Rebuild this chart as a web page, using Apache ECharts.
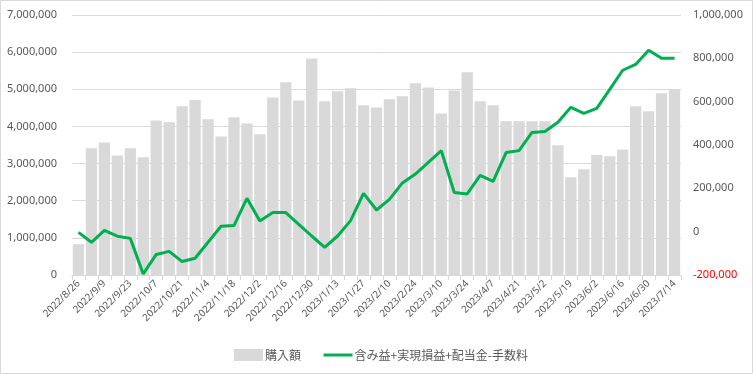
<!DOCTYPE html>
<html>
<head>
<meta charset="utf-8">
<script src="https://cdn.jsdelivr.net/npm/echarts@6/dist/echarts.min.js"></script>
<style>
html,body{margin:0;padding:0;background:#fff;}
#chart{width:753px;height:374px;}
</style>
</head>
<body>
<div id="chart"></div>
<script>
const categories = ['2022/8/26','2022/9/2','2022/9/9','2022/9/16','2022/9/23','2022/9/30','2022/10/7','2022/10/14','2022/10/21','2022/10/28','2022/11/4','2022/11/11','2022/11/18','2022/11/25','2022/12/2','2022/12/9','2022/12/16','2022/12/23','2022/12/30','2023/1/6','2023/1/13','2023/1/20','2023/1/27','2023/2/3','2023/2/10','2023/2/17','2023/2/24','2023/3/3','2023/3/10','2023/3/17','2023/3/24','2023/3/31','2023/4/7','2023/4/14','2023/4/21','2023/4/28','2023/5/2','2023/5/12','2023/5/19','2023/5/26','2023/6/2','2023/6/9','2023/6/16','2023/6/23','2023/6/30','2023/7/7','2023/7/14'];

const purchaseName = '購入額';
const purchase = [830000, 3410000, 3570000, 3220000, 3410000, 3170000, 4160000, 4110000, 4540000, 4710000, 4190000, 3730000, 4250000, 4080000, 3790000, 4780000, 5190000, 4700000, 5830000, 4680000, 4950000, 5030000, 4570000, 4510000, 4730000, 4810000, 5160000, 5050000, 4350000, 4970000, 5460000, 4680000, 4570000, 4140000, 4140000, 4140000, 4140000, 3490000, 2630000, 2850000, 3230000, 3200000, 3380000, 4540000, 4410000, 4890000, 5000000];

const profitName = '含み益+実現損益+配当金-手数料';
const profit = [-3000, -49000, 6000, -21000, -31000, -195000, -105000, -91000, -138000, -123000, -49000, 25000, 28000, 154000, 49000, 88000, 88000, 34000, -20000, -72000, -20000, 51000, 177000, 100000, 149000, 225000, 266000, 320000, 374000, 181000, 174000, 260000, 232000, 365000, 374000, 458000, 462000, 505000, 574000, 546000, 569000, 657000, 745000, 772000, 837000, 800000, 800000];

const fmt = v => Number(v).toLocaleString('en-US');
const txt = '#595959';
const font = '"Noto Sans", "Noto Sans CJK JP", sans-serif';

const chart = echarts.init(document.getElementById('chart'), null, {renderer: 'canvas'});
chart.setOption({
  animation: false,
  backgroundColor: '#fff',
  textStyle: {fontFamily: font},
  graphic: [{
    type: 'rect', silent: true,
    shape: {x: 0.5, y: 0.5, width: 752, height: 373},
    style: {fill: 'none', stroke: '#d9d9d9', lineWidth: 1}
  }],
  grid: {left: 72, right: 72, top: 15, bottom: 99, containLabel: false},
  legend: {
    left: 229, top: 344,
    itemWidth: 29, itemHeight: 12, itemGap: 21,
    textStyle: {color: txt, fontSize: 12, fontFamily: '"Noto Sans CJK JP", sans-serif', padding: [0, 0, 0, -3]},
    data: [
      {name: purchaseName, icon: 'rect'},
      {name: profitName, itemStyle: {opacity: 0}, lineStyle: {color: '#00b050', width: 3}}
    ]
  },
  xAxis: {
    type: 'category',
    data: categories,
    boundaryGap: true,
    axisLine: {lineStyle: {color: '#d9d9d9', width: 1}},
    axisTick: {show: true, interval: 0, length: 5, lineStyle: {color: '#d9d9d9'}},
    axisLabel: {interval: 1, rotate: 45, color: txt, fontSize: 10, margin: 7, fontFamily: font}
  },
  yAxis: [{
    type: 'value', min: 0, max: 7000000, interval: 1000000,
    axisLine: {show: false}, axisTick: {show: false},
    splitLine: {lineStyle: {color: '#d9d9d9', width: 1}},
    axisLabel: {color: txt, fontSize: 11, margin: 15, formatter: fmt, fontFamily: font}
  }, {
    type: 'value', min: -200000, max: 1000000, interval: 200000,
    position: 'right',
    axisLine: {show: false}, axisTick: {show: false},
    splitLine: {show: false},
    axisLabel: {fontSize: 11, margin: 12, formatter: fmt, fontFamily: font,
      color: v => (Number(v) < 0 ? '#ff0000' : txt)}
  }],
  series: [{
    name: purchaseName,
    type: 'bar',
    data: purchase,
    yAxisIndex: 0,
    barCategoryGap: '13%',
    itemStyle: {color: '#d9d9d9'}
  }, {
    name: profitName,
    type: 'line',
    data: profit,
    yAxisIndex: 1,
    symbol: 'none',
    showSymbol: false,
    lineStyle: {color: '#00b050', width: 3},
    itemStyle: {color: '#00b050'}
  }]
});
</script>
</body>
</html>
